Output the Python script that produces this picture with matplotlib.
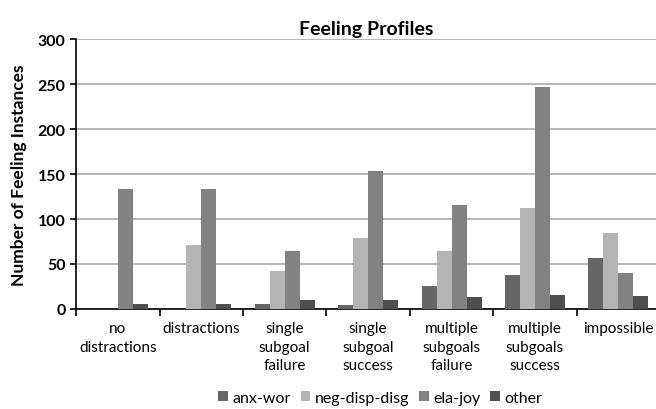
import numpy as np
import matplotlib.pyplot as plt

plt.rcParams['font.family'] = ['Lato', 'DejaVu Sans']

categories = ["no\ndistractions", "distractions", "single\nsubgoal\nfailure",
              "single\nsubgoal\nsuccess", "multiple\nsubgoals\nfailure",
              "multiple\nsubgoals\nsuccess", "impossible"]
anx_wor = [0, 0, 6, 4, 26, 38, 57]
neg_disp_disg = [0, 71, 42, 79, 64, 112, 84]
ela_joy = [133, 133, 64, 153, 116, 247, 40]
other = [6, 6, 10, 10, 13, 16, 14]

series = [("anx-wor", anx_wor, "#666666"),
          ("neg-disp-disg", neg_disp_disg, "#b4b4b4"),
          ("ela-joy", ela_joy, "#828282"),
          ("other", other, "#4f4f4f")]

fig = plt.figure(figsize=(6.56, 4.10), dpi=100)
ax = fig.add_axes([0.116, 0.244, 0.884, 0.658])

x = np.arange(len(categories))
w = 0.18
for i, (name, vals, col) in enumerate(series):
    ax.bar(x + (i - 1.5) * w, vals, w, color=col, label=name,
           linewidth=0, zorder=3)

ax.set_xlim(-0.5, 6.45)
ax.set_ylim(0, 300)
ax.set_yticks(range(0, 301, 50))
ax.grid(axis="y", color="#aaaaaa", linewidth=1.2, zorder=0)
ax.set_axisbelow(True)

ax.set_xticks(x)
ax.set_xticklabels(categories, fontsize=11, linespacing=1.4)
ax.tick_params(axis="x", length=0, pad=9)
ax.set_xticks(np.arange(-0.5, 6.0, 1.0), minor=True)
ax.tick_params(axis="x", which="minor", length=5, width=1.2, color="black")
ax.tick_params(axis="y", length=4, width=1.2, labelsize=11.5)
for lab in ax.get_yticklabels():
    lab.set_fontweight("bold")

for s in ["top", "right"]:
    ax.spines[s].set_visible(False)
ax.spines["left"].set_linewidth(1.2)
ax.spines["bottom"].set_linewidth(1.2)

ax.set_ylabel("Number of Feeling Instances", fontsize=12.5, fontweight="bold",
              labelpad=8)
ax.set_title("Feeling Profiles", fontsize=14, fontweight="bold", pad=4)

fig.legend(loc="center", bbox_to_anchor=(0.58, 0.028), ncol=4, frameon=False,
           fontsize=11.5, handlelength=0.6, handleheight=0.6, handletextpad=0.3,
           columnspacing=0.6)

fig.savefig("out.png", dpi=100)
